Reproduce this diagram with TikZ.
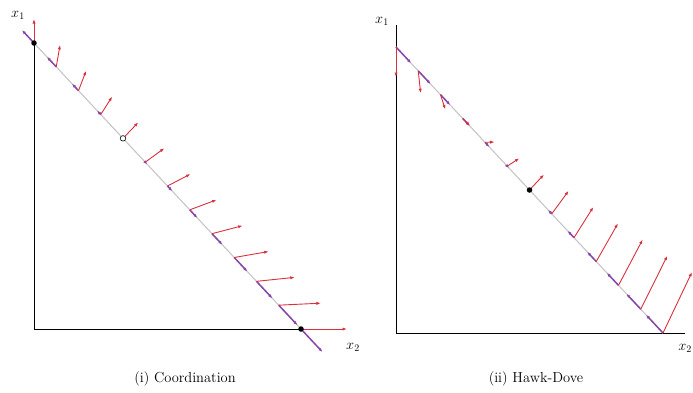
\documentclass[tikz,border=0pt]{standalone}
\usepackage{tikz}
\usetikzlibrary{arrows.meta}
\definecolor{fieldred}{RGB}{218,48,62}
\definecolor{flowpurple}{RGB}{135,70,170}

\begin{document}
\begin{tikzpicture}[
    x=1pt, y=-1pt,
    axis/.style={black, line width=0.7pt},
    simplex/.style={gray!45, line width=1.1pt},
    payoff/.style={-{Latex[length=4.5pt,width=3.2pt]}, fieldred, line width=0.9pt},
    flow/.style={-{Latex[length=4pt,width=3.2pt]}, flowpurple, line width=1.5pt},
    rest/.style={circle, fill=black, inner sep=0pt, minimum size=5.5pt},
    unstable/.style={circle, draw=black, fill=white, line width=0.6pt, inner sep=0pt, minimum size=5.5pt},
    lab/.style={font=\fontsize{14}{16}\selectfont},
    caption/.style={font=\fontsize{14.5}{17}\selectfont}
]
    \useasboundingbox (0,0) rectangle (693,392);

    % (i) coordination
    \coordinate (lo) at (34,329);
    \coordinate (lt) at (34,43);
    \coordinate (lr) at (301,329);
    \draw [axis] (lt) -- (lo) -- (lr);
    \draw [simplex] (lt) -- (lr);
    \foreach \i in {0,...,12}{
        \pgfmathsetmacro{\t}{\i/12}
        \pgfmathsetmacro{\bx}{34+267*\t}
        \pgfmathsetmacro{\by}{43+286*\t}
        \pgfmathsetmacro{\dx}{46*\t}
        \pgfmathsetmacro{\dy}{-24*(1-\t)}
        \pgfmathsetmacro{\p}{0.6827*\dx+0.7313*\dy}
        \coordinate (cl\i) at (\bx,\by);
        \coordinate (rl\i) at (\bx+\dx,\by+\dy);
        \coordinate (pl\i) at (\bx+0.6827*\p,\by+0.7313*\p);
        \ifnum\i=4\else \draw [flow] (cl\i) -- (pl\i);\fi
        \draw [payoff] (cl\i) -- (rl\i);
    }
    \node [rest] (lA) at (lt) {};
    \node [rest] (lB) at (lr) {};
    \node [unstable] (lmix) at (cl4) {};
    \node [lab] (lx1) at (18,15) {$x_1$};
    \node [lab] (lx2) at (353,347) {$x_2$};
    \node [caption] (capi) at (185,379) {(i) Coordination};

    % (ii) hawk-dove
    \coordinate (ro) at (396,333);
    \coordinate (rtop) at (396,25);
    \coordinate (rend) at (685,333);
    \coordinate (rt) at (396,47);
    \coordinate (rr) at (663,333);
    \draw [axis] (rtop) -- (ro) -- (rend);
    \draw [simplex] (rt) -- (rr);
    \foreach \i in {0,...,12}{
        \pgfmathsetmacro{\t}{\i/12}
        \pgfmathsetmacro{\bx}{396+267*\t}
        \pgfmathsetmacro{\by}{47+286*\t}
        \pgfmathsetmacro{\dx}{29*\t}
        \pgfmathsetmacro{\dy}{30-91*\t}
        \pgfmathsetmacro{\p}{0.6827*\dx+0.7313*\dy}
        \coordinate (cr\i) at (\bx,\by);
        \coordinate (rr\i) at (\bx+\dx,\by+\dy);
        \coordinate (pr\i) at (\bx+0.6827*\p,\by+0.7313*\p);
        \ifnum\i=6\else \draw [flow] (cr\i) -- (pr\i);\fi
        \draw [payoff] (cr\i) -- (rr\i);
    }
    \node [rest] (rmix) at (cr6) {};
    \node [lab] (rx1) at (382,21) {$x_1$};
    \node [lab, anchor=east, inner sep=1pt] (rx2) at (693,348) {$x_2$};
    \node [caption] (capii) at (536,379) {(ii) Hawk-Dove};
\end{tikzpicture}
\end{document}
